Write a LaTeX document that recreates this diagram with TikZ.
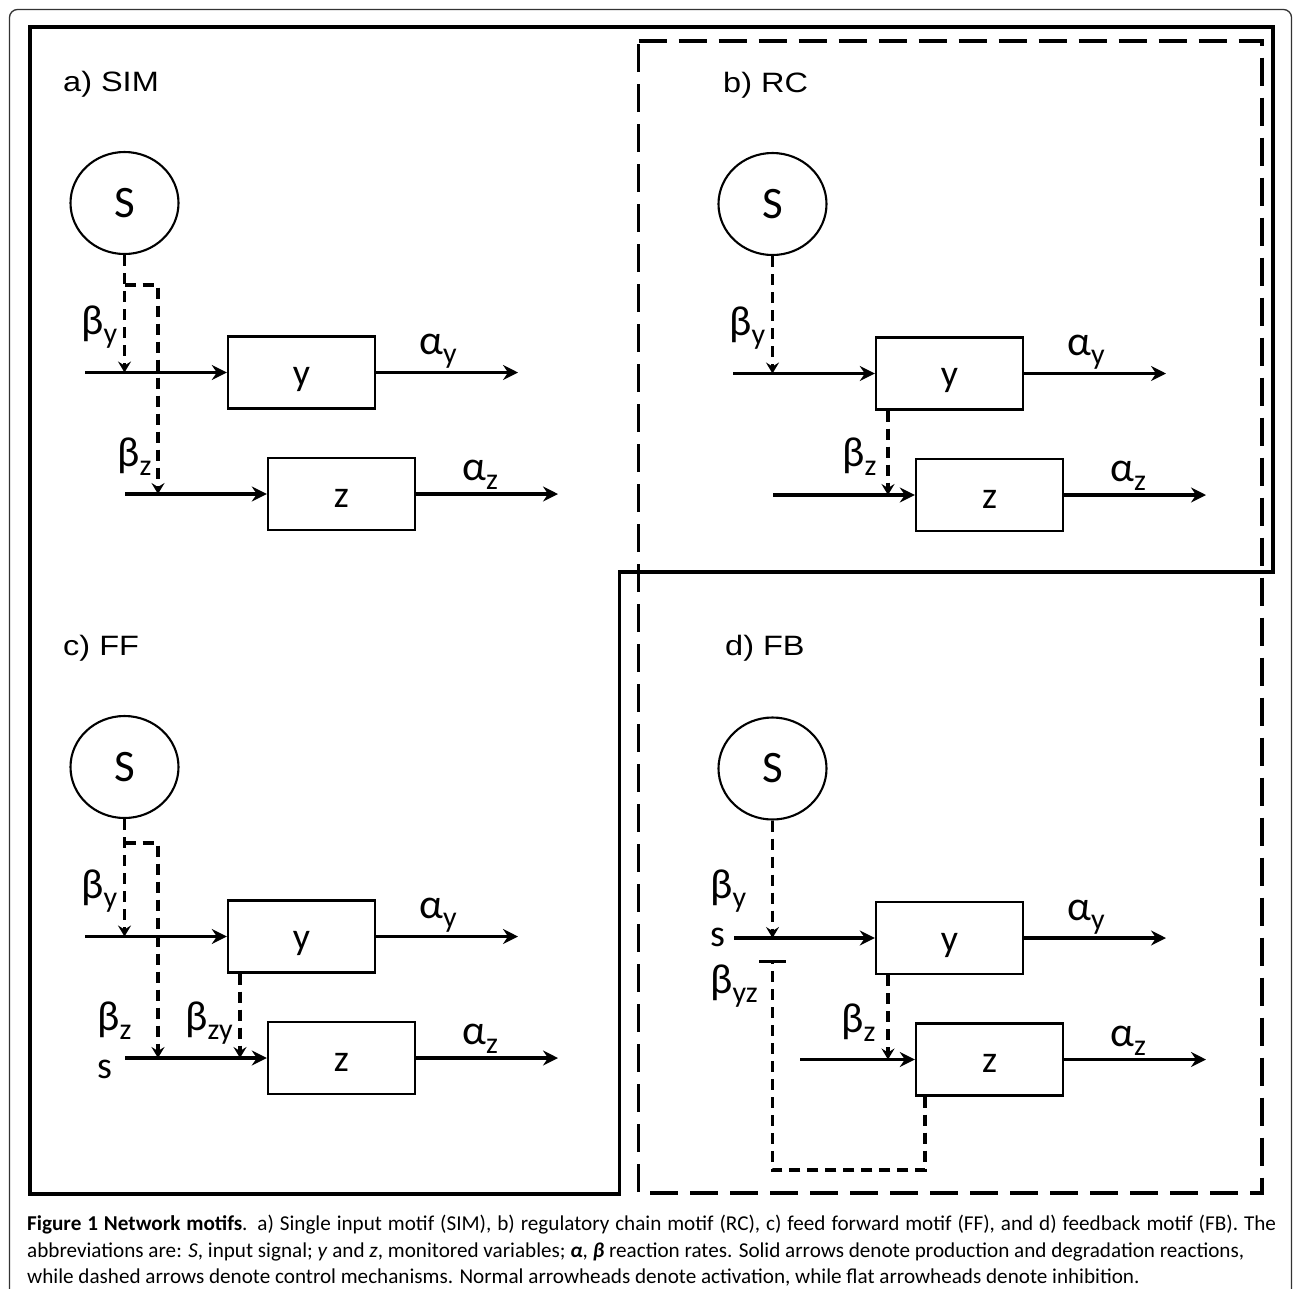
\documentclass[tikz,border=0pt]{standalone}
\usepackage{fontspec}
\setmainfont{Carlito}
\newfontfamily\arialfont{Liberation Sans}
\usetikzlibrary{arrows.meta,shapes.geometric}
\newcommand\mrate[2]{{\fontsize{42}{42}\selectfont #1}\raisebox{-9pt}{\fontsize{30}{30}\selectfont #2}}
\newcommand\ptitle[1]{\scalebox{1.16}[1]{#1}}
\tikzset{
  box/.style={draw, line width=2.4pt, minimum width=147pt, minimum height=72pt, inner sep=0pt,
    text height=26pt, text depth=0pt, font=\fontsize{38}{38}\selectfont},
  sig/.style={draw, ellipse, line width=2.1pt, minimum width=108pt, minimum height=102pt, inner sep=0pt,
    font=\fontsize{45}{45}\selectfont},
  flow/.style={line width=3.2pt, -{Stealth[length=15pt,width=15pt,inset=5pt]}},
  ctrl/.style={line width=3.2pt, dash pattern=on 11pt off 7pt, -{Stealth[length=11pt,width=13pt,inset=4pt]}},
  inhib/.style={line width=3.2pt, dash pattern=on 11pt off 7pt, -{Bar[width=27pt]}},
  lab/.style={anchor=base west, inner sep=0pt},
  ttl/.style={anchor=base west, inner sep=0pt, font=\arialfont\fontsize{28}{28}\selectfont},
  small/.style={anchor=base west, inner sep=0pt, font=\fontsize{38}{38}\selectfont},
  captext/.style={anchor=base west, inner sep=0pt, font=\fontsize{21.15}{21.15}\selectfont},
}
\begin{document}
\begin{tikzpicture}[x=1pt,y=-1pt]
\useasboundingbox[fill=white] (0,0) rectangle (1293,1288);
% outer frame
\draw[black!80, line width=1.3pt, rounded corners=8pt] (9.5,9.5) rectangle (1291.5,1310);
% solid frame
\draw[line width=3.5pt] (30,27) -- (1273,27) -- (1273,572) -- (619.5,572) -- (619.5,1194) -- (30,1194) -- cycle;
% dashed frame
\draw[line width=3.5pt, dash pattern=on 28pt off 12pt] (638.5,41) -- (1262,41) -- (1262,1193) -- (638.5,1193) -- cycle;

% ---------- panel a
\node[ttl] (a-t) at (63,91) {\ptitle{a) SIM}};
\node[sig] (a-S) at (124.5,203) {S};
\node[box] (a-y) at (301.5,372.5) {y};
\node[box] (a-z) at (341.5,494) {z};
\coordinate (a-yin) at (85,372.5);
\coordinate (a-yout) at (518,372.5);
\coordinate (a-zin) at (125,494);
\coordinate (a-zout) at (558,494);
\coordinate (a-yj) at (124.5,372.5);
\coordinate (a-br) at (124.5,285);
\coordinate (a-br2) at (158,285);
\coordinate (a-zj) at (158,494);
\draw[flow] (a-yin) -- (a-y.west);
\draw[flow] (a-y.east) -- (a-yout);
\draw[flow] (a-zin) -- (a-z.west);
\draw[flow] (a-z.east) -- (a-zout);
\draw[ctrl] (a-S.south) -- (a-yj);
\draw[ctrl] (a-br) -- (a-br2) -- (a-zj);
\node[lab] (a-by) at (81,334) {\mrate{β}{y}};
\node[lab] (a-ay) at (419,354) {\mrate{α}{y}};
\node[lab] (a-bz) at (117,466) {\mrate{β}{z}};
\node[lab] (a-az) at (462,480) {\mrate{α}{z}};

% ---------- panel b
\node[ttl] (b-t) at (723,92) {\ptitle{b) RC}};
\node[sig] (b-S) at (772.5,204) {S};
\node[box] (b-y) at (949.5,373.5) {y};
\node[box] (b-z) at (989.5,495) {z};
\coordinate (b-yin) at (733,373.5);
\coordinate (b-yout) at (1166,373.5);
\coordinate (b-zin) at (773,495);
\coordinate (b-zout) at (1206,495);
\coordinate (b-yj) at (772.5,373.5);
\coordinate (b-zj) at (888,495);
\draw[flow] (b-yin) -- (b-y.west);
\draw[flow] (b-y.east) -- (b-yout);
\draw[flow] (b-zin) -- (b-z.west);
\draw[flow] (b-z.east) -- (b-zout);
\draw[ctrl] (b-S.south) -- (b-yj);
\draw[ctrl] (b-zj |- b-y.south) -- (b-zj);
\node[lab] (b-by) at (729,335) {\mrate{β}{y}};
\node[lab] (b-ay) at (1067,355) {\mrate{α}{y}};
\node[lab] (b-bz) at (842,466) {\mrate{β}{z}};
\node[lab] (b-az) at (1110,481) {\mrate{α}{z}};

% ---------- panel c
\node[ttl] (c-t) at (63,655) {\ptitle{c) FF}};
\node[sig] (c-S) at (124.5,767) {S};
\node[box] (c-y) at (301.5,936.5) {y};
\node[box] (c-z) at (341.5,1058) {z};
\coordinate (c-yin) at (85,936.5);
\coordinate (c-yout) at (518,936.5);
\coordinate (c-zin) at (125,1058);
\coordinate (c-zout) at (558,1058);
\coordinate (c-yj) at (124.5,936.5);
\coordinate (c-br) at (124.5,843);
\coordinate (c-br2) at (158,843);
\coordinate (c-zj) at (158,1058);
\coordinate (c-zj2) at (240,1058);
\draw[flow] (c-yin) -- (c-y.west);
\draw[flow] (c-y.east) -- (c-yout);
\draw[flow] (c-zin) -- (c-z.west);
\draw[flow] (c-z.east) -- (c-zout);
\draw[ctrl] (c-S.south) -- (c-yj);
\draw[ctrl] (c-br) -- (c-br2) -- (c-zj);
\draw[ctrl] (c-zj2 |- c-y.south) -- (c-zj2);
\node[lab] (c-by) at (81,898) {\mrate{β}{y}};
\node[lab] (c-ay) at (419,918) {\mrate{α}{y}};
\node[lab] (c-bz) at (97,1030) {\mrate{β}{z}};
\node[lab] (c-bzy) at (185,1030) {\mrate{β}{zy}};
\node[small] (c-s) at (97,1078) {s};
\node[lab] (c-az) at (462,1044) {\mrate{α}{z}};

% ---------- panel d
\node[ttl] (d-t) at (725,655) {\ptitle{d) FB}};
\node[sig] (d-S) at (772.5,768.5) {S};
\node[box] (d-y) at (949.5,938) {y};
\node[box] (d-z) at (989.5,1059.5) {z};
\coordinate (d-yin) at (734,938);
\coordinate (d-yout) at (1166,938);
\coordinate (d-zin) at (800,1059.5);
\coordinate (d-zout) at (1206,1059.5);
\coordinate (d-yj) at (772.5,938);
\coordinate (d-zj) at (888,1059.5);
\coordinate (d-fb1) at (925,1170);
\coordinate (d-fb2) at (772.5,1170);
\coordinate (d-fb3) at (772.5,960);
\draw[flow] (d-yin) -- (d-y.west);
\draw[flow] (d-y.east) -- (d-yout);
\draw[flow] (d-zin) -- (d-z.west);
\draw[flow] (d-z.east) -- (d-zout);
\draw[ctrl] (d-S.south) -- (d-yj);
\draw[ctrl] (d-zj |- d-y.south) -- (d-zj);
\draw[inhib] (d-fb1 |- d-z.south) -- (d-fb1) -- (d-fb2) -- (d-fb3);
\node[lab] (d-by) at (710,898) {\mrate{β}{y}};
\node[small] (d-s) at (710,946) {s};
\node[lab] (d-byz) at (710,993) {\mrate{β}{yz}};
\node[lab] (d-ay) at (1067,920) {\mrate{α}{y}};
\node[lab] (d-bz) at (841,1032) {\mrate{β}{z}};
\node[lab] (d-az) at (1110,1046) {\mrate{α}{z}};

% ---------- caption
\node[captext] (cap1) at (27,1230) {\makebox[1249pt][s]{\textbf{Figure 1 Network motifs}. a) Single input motif (SIM), b) regulatory chain motif (RC), c) feed forward motif (FF), and d) feedback motif (FB). The}};
\node[captext] (cap2) at (27,1257) {abbreviations are: \textit{S}, input signal; \textit{y} and \textit{z}, monitored variables; \textit{\textbf{α}}, \textit{\textbf{β}} reaction rates. Solid arrows denote production and degradation reactions,};
\node[captext] (cap3) at (27,1283) {while dashed arrows denote control mechanisms. Normal arrowheads denote activation, while flat arrowheads denote inhibition.};
\end{tikzpicture}
\end{document}
